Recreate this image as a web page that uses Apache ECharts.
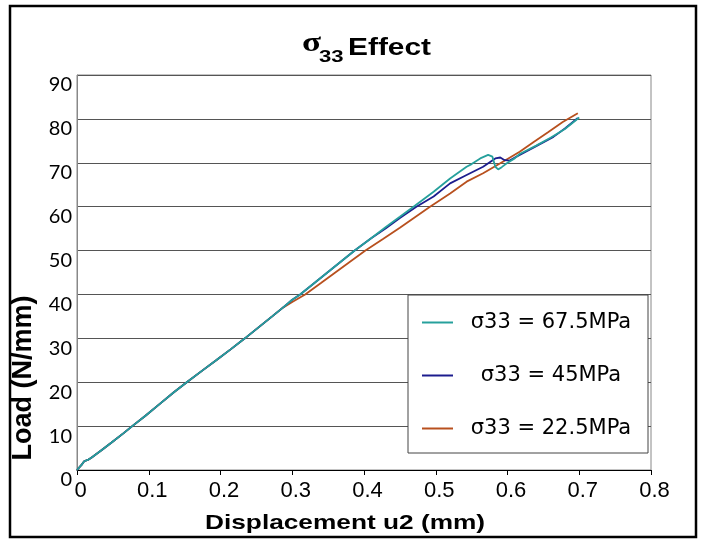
<!DOCTYPE html>
<html>
<head>
<meta charset="utf-8">
<script src="https://cdn.jsdelivr.net/npm/echarts@6/dist/echarts.min.js"></script>
<style>
  html, body { margin: 0; padding: 0; background: #fff; }
  #chart { width: 702px; height: 540px; }
</style>
</head>
<body>
<div id="chart"></div>
<script>
// common start of all three curves (displacement mm, load N/mm)
const commonDisp = [0, 0.006, 0.01, 0.015, 0.02, 0.035, 0.05, 0.065, 0.077, 0.095, 0.115, 0.135, 0.153, 0.175, 0.194, 0.215, 0.234, 0.253, 0.272, 0.287];
const commonLoad = [0, 1.1, 2.0, 2.3, 2.8, 4.6, 6.5, 8.4, 10, 12.3, 15, 17.7, 20, 22.7, 25, 27.6, 30, 32.5, 35, 37];

// 67.5 and 45 MPa stay together a little longer
const midDisp = [0.30, 0.311, 0.33, 0.349, 0.368, 0.387, 0.41];
const midLoad = [38.8, 40, 42.5, 45, 47.5, 50, 52.8];

const tailDisp675 = [0.43, 0.45, 0.469, 0.497, 0.52, 0.543, 0.55, 0.562, 0.573, 0.579, 0.583, 0.587, 0.592, 0.599, 0.61, 0.617, 0.64, 0.66, 0.68, 0.70];
const tailLoad675 = [55.3, 57.7, 60, 63.4, 66.4, 69.1, 69.7, 71, 71.8, 71.4, 69.1, 68.5, 69, 69.9, 71, 72, 73.9, 75.7, 77.7, 80.3];

const tailDisp45 = [0.43, 0.45, 0.473, 0.497, 0.52, 0.543, 0.566, 0.583, 0.59, 0.596, 0.603, 0.617, 0.64, 0.664, 0.68, 0.698];
const tailLoad45 = [55, 57.4, 60, 62.3, 65.3, 67.2, 69.1, 71, 71.2, 70.6, 70.5, 71.8, 73.8, 75.9, 77.8, 80.2];

const tailDisp225 = [0.30, 0.318, 0.34, 0.36, 0.38, 0.402, 0.427, 0.45, 0.47, 0.492, 0.52, 0.543, 0.566, 0.59, 0.617, 0.636, 0.657, 0.677, 0.698];
const tailLoad225 = [38.3, 40, 42.6, 45, 47.4, 50, 52.7, 55.2, 57.5, 60, 63, 65.7, 67.6, 69.9, 72.5, 74.7, 77, 79.3, 81.3];

const seriesNames = ['σ33 = 67.5MPa', 'σ33 = 45MPa', 'σ33 = 22.5MPa'];
const seriesColors = ['#26a09c', '#1c1c8e', '#b8501e'];

function pairs(xs, ys) {
  return xs.map((x, i) => [x, ys[i]]);
}

const data675 = pairs(commonDisp.concat(midDisp, tailDisp675), commonLoad.concat(midLoad, tailLoad675));
const data45 = pairs(commonDisp.concat(midDisp, tailDisp45), commonLoad.concat(midLoad, tailLoad45));
const data225 = pairs(commonDisp.concat(tailDisp225), commonLoad.concat(tailLoad225));

const chart = echarts.init(document.getElementById('chart'), null, { renderer: 'canvas' });

function lineSeries(idx, data) {
  return {
    name: seriesNames[idx],
    type: 'line',
    data: data,
    symbol: 'none',
    color: seriesColors[idx],
    lineStyle: { width: 1.8, color: seriesColors[idx] }
  };
}

const option = {
  animation: false,
  backgroundColor: '#fff',
  grid: {
    left: 77, right: 51, top: 75, bottom: 70,
    show: true, borderColor: '#888', borderWidth: 1, backgroundColor: 'transparent'
  },
  xAxis: {
    type: 'value',
    min: 0, max: 0.8, interval: 0.1,
    axisLine: { onZero: false, lineStyle: { color: '#000', width: 1 } },
    axisTick: { show: true, inside: false, length: 5, lineStyle: { color: '#000' } },
    axisLabel: { color: '#000', fontFamily: 'Liberation Sans', fontSize: 22, margin: 10, padding: [0, 0, 0, 7] },
    splitLine: { show: false }
  },
  yAxis: {
    type: 'value',
    min: 0, max: 90, interval: 10,
    axisLine: { show: true, lineStyle: { color: '#888', width: 1 } },
    axisTick: { show: false },
    axisLabel: { color: '#000', fontFamily: 'Lato', fontSize: 20, margin: 5, verticalAlign: 'top', lineHeight: 20 },
    splitLine: { show: true, lineStyle: { color: '#555', width: 1 } }
  },
  legend: {
    data: seriesNames,
    orient: 'vertical',
    left: 408, top: 295,
    padding: [17, 4, 14, 14],
    itemGap: 32,
    itemWidth: 31, itemHeight: 2,
    icon: 'rect',
    backgroundColor: '#fff',
    borderColor: '#444', borderWidth: 1,
    formatter: '{c|{name}}',
    textStyle: {
      color: '#000', fontFamily: 'DejaVu Sans', fontSize: 21,
      rich: { c: { width: 186, align: 'center', fontFamily: 'DejaVu Sans', fontSize: 21, lineHeight: 20, color: '#000' } }
    }
  },
  series: [
    lineSeries(2, data225),
    lineSeries(1, data45),
    lineSeries(0, data675)
  ],
  graphic: [
    { type: 'rect', shape: { x: 10, y: 6, width: 686, height: 531 },
      style: { fill: 'none', stroke: '#000', lineWidth: 2.5 }, silent: true },
    // title: sigma_33 Effect
    { type: 'text', x: 302, y: 44, scaleX: 1.3,
      style: { text: 'σ', font: 'bold 27px "Liberation Serif"', fill: '#000', textAlign: 'left', textVerticalAlign: 'middle' } },
    { type: 'text', x: 319, y: 57, scaleX: 1.3,
      style: { text: '33', font: 'bold 17px "Liberation Sans"', fill: '#000', textAlign: 'left', textVerticalAlign: 'middle' } },
    { type: 'text', x: 348, y: 49, scaleX: 1.3,
      style: { text: 'Effect', font: 'bold 23px "Liberation Sans"', fill: '#000', textAlign: 'left', textVerticalAlign: 'middle' } },
    // axis titles
    { type: 'text', x: 205, y: 523, scaleX: 1.25,
      style: { text: 'Displacement u2 (mm)', font: 'bold 21px "Liberation Sans"', fill: '#000', textAlign: 'left', textVerticalAlign: 'middle' } },
    { type: 'text', x: 24, y: 378, rotation: Math.PI / 2,
      style: { text: 'Load (N/mm)', font: 'bold 27px "Liberation Sans"', fill: '#000', textAlign: 'center', textVerticalAlign: 'middle' } }
  ]
};

chart.setOption(option);
</script>
</body>
</html>
